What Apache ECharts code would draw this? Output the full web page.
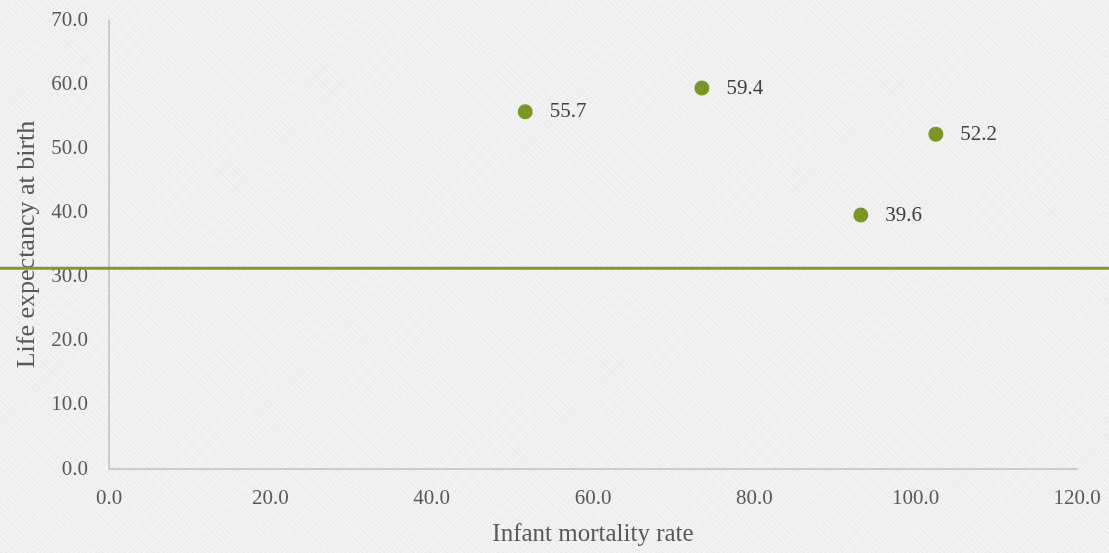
<!DOCTYPE html>
<html>
<head>
<meta charset="utf-8">
<script src="https://cdn.jsdelivr.net/npm/echarts@6/dist/echarts.min.js"></script>
<style>
  html, body { margin: 0; padding: 0; }
  body {
    width: 1109px; height: 553px;
    background-color: #efefef;
    background-image:
      repeating-linear-gradient(135deg, rgba(255,255,255,0.35) 0px, rgba(255,255,255,0.35) 1px, rgba(0,0,0,0) 1px, rgba(0,0,0,0) 3px),
      repeating-linear-gradient(45deg, rgba(0,0,0,0.018) 0px, rgba(0,0,0,0.018) 1px, rgba(0,0,0,0) 1px, rgba(0,0,0,0) 4px);
  }
  #chart { width: 1109px; height: 553px; }
</style>
</head>
<body>
<div id="chart"></div>
<script>
// Infant mortality rate vs. life expectancy at birth
const infantMortality = [51.6, 73.5, 102.5, 93.2];
const lifeExpectancy = [55.7, 59.4, 52.2, 39.6];
const referenceLevel = 31.3;
const xTicks = { min: 0, max: 120, interval: 20 };
const yTicks = { min: 0, max: 70, interval: 10 };

const FONT = '"Liberation Serif", "DejaVu Serif", serif';
const GREEN = '#7a9624';
const LINE_GREEN = '#7f9b2d';

const points = infantMortality.map((x, i) => [x, lifeExpectancy[i]]);

const chart = echarts.init(document.getElementById('chart'), null, { renderer: 'canvas' });
chart.setOption({
  backgroundColor: 'transparent',
  animation: false,
  textStyle: { fontFamily: FONT },
  grid: [
    { left: 109, right: 32, top: 20, bottom: 84, containLabel: false },
    { left: 0, right: 0, top: 20, bottom: 84, containLabel: false }
  ],
  xAxis: [
    {
      type: 'value', gridIndex: 0,
      min: xTicks.min, max: xTicks.max, interval: xTicks.interval,
      name: 'Infant mortality rate', nameLocation: 'middle', nameGap: 53,
      nameTextStyle: { fontFamily: FONT, fontSize: 25, color: '#595959' },
      axisLine: { show: true, lineStyle: { color: '#bfbfbf', width: 1.5 } },
      axisTick: { show: false },
      splitLine: { show: false },
      axisLabel: {
        fontFamily: FONT, fontSize: 21, color: '#595959', margin: 19,
        formatter: v => v.toFixed(1)
      }
    },
    { type: 'value', gridIndex: 1, min: 0, max: 1, show: false }
  ],
  yAxis: [
    {
      type: 'value', gridIndex: 0,
      min: yTicks.min, max: yTicks.max, interval: yTicks.interval,
      name: 'Life expectancy at birth', nameLocation: 'middle', nameGap: 69,
      nameTextStyle: { fontFamily: FONT, fontSize: 26, color: '#595959' },
      axisLine: { show: true, lineStyle: { color: '#bfbfbf', width: 1.5 } },
      axisTick: { show: false },
      splitLine: { show: false },
      axisLabel: {
        fontFamily: FONT, fontSize: 21, color: '#595959', margin: 21,
        formatter: v => v.toFixed(1)
      }
    },
    { type: 'value', gridIndex: 1, min: yTicks.min, max: yTicks.max, show: false }
  ],
  series: [
    {
      type: 'line',
      xAxisIndex: 1, yAxisIndex: 1,
      data: [[0, referenceLevel], [1, referenceLevel]],
      symbol: 'none',
      lineStyle: { color: LINE_GREEN, width: 3 },
      silent: true,
      z: 1
    },
    {
      type: 'scatter',
      xAxisIndex: 0, yAxisIndex: 0,
      data: points,
      symbol: 'circle',
      symbolSize: 15,
      itemStyle: { color: GREEN, opacity: 1 },
      label: {
        show: true, position: 'right', distance: 17,
        fontFamily: FONT, fontSize: 21, color: '#404040',
        formatter: p => p.value[1].toFixed(1)
      },
      z: 3
    }
  ]
});
</script>
</body>
</html>
